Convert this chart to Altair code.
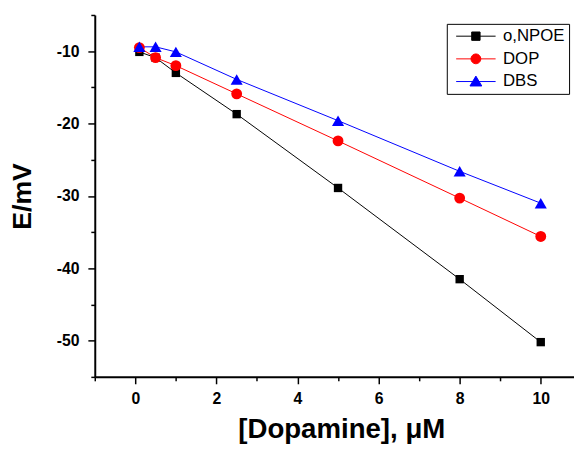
import altair as alt
import pandas as pd

# ---- data ----
conc = [0.1, 0.5, 1, 2.5, 5, 8, 10]
npoe = [-10.1, -10.9, -13.0, -18.7, -28.9, -41.5, -50.2]
dop = [-9.5, -10.9, -12.0, -15.9, -22.4, -30.3, -35.6]
dbs = [-9.4, -9.4, -10.1, -13.9, -19.6, -26.6, -31.0]

series_names = ["o,NPOE", "DOP", "DBS"]
series_colors = ["#000000", "#ff0000", "#0000ff"]
series_shapes = ["square", "circle", "triangle-up"]
series_sizes = [72, 121, 150]

x_major = [0, 2, 4, 6, 8, 10]
x_minor = [-1, 1, 3, 5, 7, 9]
y_major = [-50, -40, -30, -20, -10]
y_minor = [-55, -45, -35, -25, -15, -5]

# legend glyphs: a short line with the marker in its middle
legend_paths = [
    "M-2.857,0H2.857M-0.607,-0.607H0.607V0.607H-0.607Z",
    "M-2.857,0H2.857M0.714,0A0.714,0.714,0,1,1,-0.714,0A0.714,0.714,0,1,1,0.714,0Z",
    "M-2.857,0H2.857M0,-0.786L0.857,0.643L-0.857,0.643Z",
]

rows = []
for name, vals in zip(series_names, [npoe, dop, dbs]):
    for c, v in zip(conc, vals):
        rows.append({"series": name, "conc": c, "E": v})
df = pd.DataFrame(rows)

FONT = "Liberation Sans"
x_scale = alt.Scale(domain=[-1, 10.82], nice=False, zero=False)
y_scale = alt.Scale(domain=[-55, -5], nice=False, zero=False)

common_axis = dict(
    grid=False,
    domainColor="black",
    domainWidth=2,
    tickColor="black",
    tickWidth=1.5,
    labelFont=FONT,
    labelFontSize=16,
    labelFontWeight="bold",
    labelColor="black",
    labelOverlap=False,
    labelExpr="replace(datum.label, '\u2212', '-')",
    titleFont=FONT,
    titleFontWeight="bold",
    titleColor="black",
)

x_major_axis = alt.Axis(
    title="[Dopamine], \u03bcM", values=x_major, tickSize=7, labelPadding=7,
    titleFontSize=28, titlePadding=10, titleX=250, titleAlign="center",
    orient="bottom", **common_axis,
)
y_major_axis = alt.Axis(
    title="E/mV", values=y_major, tickSize=7, labelPadding=9,
    titleFontSize=27, titlePadding=20, orient="left", **common_axis,
)
x_minor_axis = alt.Axis(
    title="", values=x_minor, tickSize=4, labels=False, domain=False,
    orient="bottom", grid=False, tickColor="black", tickWidth=1.5,
)
y_minor_axis = alt.Axis(
    title="", values=y_minor, tickSize=4, labels=False, domain=False,
    orient="left", grid=False, tickColor="black", tickWidth=1.5,
)

layers = []
for i, (name, col) in enumerate(zip(series_names, series_colors)):
    if i == 0:
        enc = dict(
            x=alt.X("conc:Q", scale=x_scale, axis=x_major_axis),
            y=alt.Y("E:Q", scale=y_scale, axis=y_major_axis),
        )
    else:
        enc = dict(x=alt.X("conc:Q", axis=None), y=alt.Y("E:Q", axis=None))
    layers.append(
        alt.Chart(df)
        .transform_filter(alt.datum.series == name)
        .mark_line(strokeWidth=1, color=col)
        .encode(**enc)
    )

for i, (name, col, shp, sz) in enumerate(zip(series_names, series_colors, series_shapes, series_sizes)):
    if i == 0:
        enc = dict(
            x=alt.X("conc:Q", axis=x_minor_axis),
            y=alt.Y("E:Q", axis=y_minor_axis),
        )
    else:
        enc = dict(x=alt.X("conc:Q", axis=None), y=alt.Y("E:Q", axis=None))
    layers.append(
        alt.Chart(df)
        .transform_filter(alt.datum.series == name)
        .mark_point(filled=True, shape=shp, size=sz, color=col, opacity=1)
        .encode(**enc)
    )

leg = alt.Legend(
    title=None,
    orient="none",
    legendX=357,
    legendY=9,
    strokeColor="black",
    fillColor="white",
    padding=4,
    symbolSize=196,
    symbolStrokeWidth=1,
    symbolOpacity=1,
    symbolOffset=17,
    labelOffset=19,
    rowPadding=5,
    labelFont=FONT,
    labelFontSize=17,
    labelColor="black",
)

# legend-only layer (no marks drawn: its data is filtered out)
legend_layer = (
    alt.Chart(df)
    .transform_filter("false")
    .mark_point(filled=True, size=196, opacity=1)
    .encode(
        x=alt.X("conc:Q", axis=None),
        y=alt.Y("E:Q", axis=None),
        fill=alt.Fill("series:N", scale=alt.Scale(domain=series_names, range=series_colors), legend=leg),
        stroke=alt.Stroke("series:N", scale=alt.Scale(domain=series_names, range=series_colors), legend=leg),
        shape=alt.Shape("series:N", scale=alt.Scale(domain=series_names, range=legend_paths), legend=leg),
    )
)
layers.append(legend_layer)

chart = (
    alt.layer(*layers)
    .resolve_axis(x="independent", y="independent")
    .properties(
        width=486,
        height=367,
        padding={"left": 88, "top": 4, "right": 0, "bottom": 65},
        autosize=alt.AutoSizeParams(type="none"),
        background="white",
    )
    .configure_view(strokeWidth=0)
)

chart.save("out.html", embed_options={"renderer": "svg", "actions": False})
